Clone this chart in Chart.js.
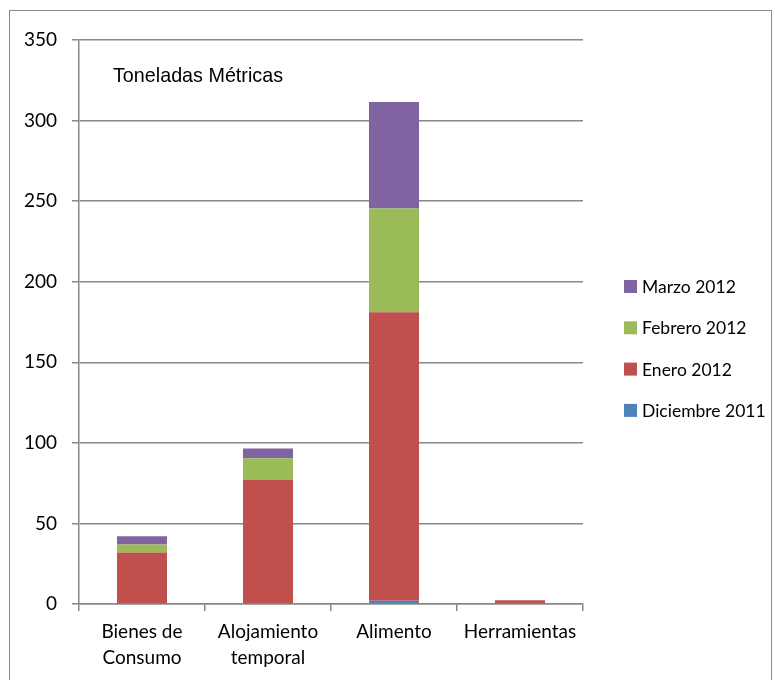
<!DOCTYPE html>
<html>
<head>
<meta charset="utf-8">
<script src="https://cdn.jsdelivr.net/npm/chart.js@4/dist/chart.umd.min.js"></script>
<style>
  html,body{margin:0;padding:0;background:#fff;}
  #frame{position:absolute;left:9px;top:10px;width:763px;height:700px;border:1px solid #8a8a8a;box-sizing:border-box;}
  #wrap{position:absolute;left:0;top:0;width:775px;height:680px;}
</style>
</head>
<body>
<div id="frame"></div>
<div id="wrap"><canvas id="c" width="775" height="680"></canvas></div>
<script>
const categories = [["Bienes de","Consumo"],["Alojamiento","temporal"],"Alimento","Herramientas"];
const diciembre2011 = [0, 0, 2, 0];
const enero2012 = [32, 77, 179, 2.3];
const febrero2012 = [5, 13.5, 64.5, 0];
const marzo2012 = [5, 6, 66, 0];
const yTicks = [0, 50, 100, 150, 200, 250, 300, 350];
const chartTitle = "Toneladas Métricas";

const FONT = "Lato, 'Open Sans', sans-serif";

const legendPlugin = {
  id: 'customLegend',
  afterDraw(chart) {
    const ctx = chart.ctx;
    const ca = chart.chartArea;
    const items = chart.data.datasets.slice().reverse();
    const x0 = ca.right + 41;
    const yc0 = 286.5;
    const gap = 41.3;
    ctx.save();
    ctx.font = "17.5px " + FONT;
    ctx.textBaseline = 'middle';
    ctx.textAlign = 'left';
    items.forEach((ds, i) => {
      const y = yc0 + i * gap;
      ctx.fillStyle = ds.backgroundColor;
      ctx.fillRect(x0, y - 6.5, 13, 13);
      ctx.fillStyle = '#000';
      ctx.fillText(ds.label, x0 + 18, y + 1);
    });
    ctx.restore();
  }
};

const titlePlugin = {
  id: 'innerTitle',
  afterDraw(chart) {
    const ctx = chart.ctx;
    const ca = chart.chartArea;
    ctx.save();
    ctx.font = "21px 'Liberation Sans Narrow', 'Liberation Sans', Arial, sans-serif";
    ctx.fillStyle = '#000';
    ctx.textBaseline = 'middle';
    ctx.textAlign = 'left';
    ctx.fillText(chartTitle, ca.left + 34, 76, 170);
    ctx.restore();
  }
};

new Chart(document.getElementById('c'), {
  type: 'bar',
  data: {
    labels: categories,
    datasets: [
      {label: 'Diciembre 2011', data: diciembre2011, backgroundColor: '#4F81BD'},
      {label: 'Enero 2012', data: enero2012, backgroundColor: '#C0504D'},
      {label: 'Febrero 2012', data: febrero2012, backgroundColor: '#9BBB59'},
      {label: 'Marzo 2012', data: marzo2012, backgroundColor: '#8064A2'}
    ]
  },
  options: {
    responsive: false,
    animation: false,
    devicePixelRatio: 1,
    layout: {padding: {top: 40, right: 192, bottom: 0, left: 0}},
    datasets: {bar: {barPercentage: 0.397, categoryPercentage: 1, borderWidth: 0}},
    plugins: {legend: {display: false}, tooltip: {enabled: false}, title: {display: false}},
    scales: {
      x: {
        stacked: true,
        afterFit(s) { s.height = 76; },
        grid: {offset: true, drawOnChartArea: false, drawTicks: true, tickLength: 7, color: '#888', lineWidth: 1.5},
        border: {display: true, color: '#888', width: 1.5},
        ticks: {color: '#000', font: {family: FONT, size: 19, lineHeight: 1.37}, padding: 8, maxRotation: 0, autoSkip: false}
      },
      y: {
        stacked: true,
        min: 0, max: 350,
        afterFit(s) { s.width = 79; },
        afterBuildTicks(s) { s.ticks = yTicks.map(v => ({value: v})); },
        grid: {color: '#888', lineWidth: 1.5, drawTicks: true, tickLength: 7},
        border: {display: true, color: '#888', width: 1.5},
        ticks: {color: '#000', font: {family: FONT, size: 19}, padding: 15}
      }
    }
  },
  plugins: [legendPlugin, titlePlugin]
});
</script>
</body>
</html>
